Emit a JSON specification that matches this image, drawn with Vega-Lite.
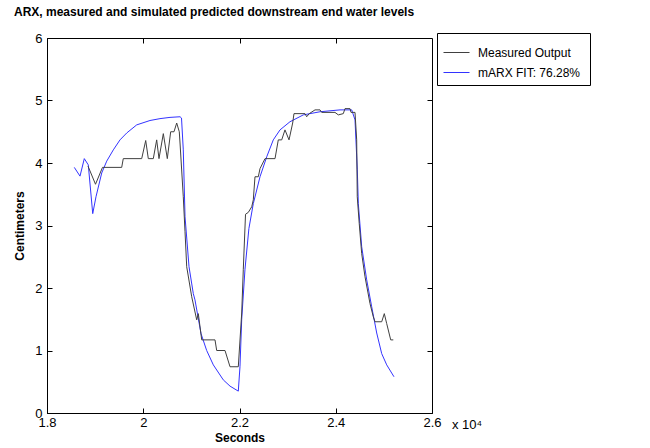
{
  "$schema": "https://vega.github.io/schema/vega-lite/v6.json",
  "width": 385,
  "height": 375,
  "autosize": {"type": "none"},
  "padding": {"left": 47, "top": 38, "right": 218, "bottom": 35},
  "background": "white",
  "config": {
    "view": {"stroke": "black", "strokeWidth": 1},
    "font": "Liberation Sans"
  },
  "title": {
    "text": "ARX, measured and simulated predicted downstream end water levels",
    "anchor": "start",
    "frame": "group",
    "dx": -33,
    "offset": 13,
    "fontSize": 12,
    "font": "Liberation Sans",
    "fontWeight": "bold",
    "color": "black"
  },
  "data": {
    "values": [
      {"series": "mARX FIT:  76.28%", "t": 1.8567, "cm": 3.93},
      {"series": "mARX FIT:  76.28%", "t": 1.8686, "cm": 3.79},
      {"series": "mARX FIT:  76.28%", "t": 1.8775, "cm": 4.07},
      {"series": "mARX FIT:  76.28%", "t": 1.8858, "cm": 3.97},
      {"series": "mARX FIT:  76.28%", "t": 1.8950, "cm": 3.19},
      {"series": "mARX FIT:  76.28%", "t": 1.9018, "cm": 3.46},
      {"series": "mARX FIT:  76.28%", "t": 1.9137, "cm": 3.84},
      {"series": "mARX FIT:  76.28%", "t": 1.9241, "cm": 4.03},
      {"series": "mARX FIT:  76.28%", "t": 1.9378, "cm": 4.21},
      {"series": "mARX FIT:  76.28%", "t": 1.9517, "cm": 4.37},
      {"series": "mARX FIT:  76.28%", "t": 1.9656, "cm": 4.48},
      {"series": "mARX FIT:  76.28%", "t": 1.9864, "cm": 4.61},
      {"series": "mARX FIT:  76.28%", "t": 2.0140, "cm": 4.68},
      {"series": "mARX FIT:  76.28%", "t": 2.0348, "cm": 4.71},
      {"series": "mARX FIT:  76.28%", "t": 2.0556, "cm": 4.73},
      {"series": "mARX FIT:  76.28%", "t": 2.0764, "cm": 4.74},
      {"series": "mARX FIT:  76.28%", "t": 2.0795, "cm": 4.72},
      {"series": "mARX FIT:  76.28%", "t": 2.0832, "cm": 4.21},
      {"series": "mARX FIT:  76.28%", "t": 2.0868, "cm": 3.14},
      {"series": "mARX FIT:  76.28%", "t": 2.0951, "cm": 2.34},
      {"series": "mARX FIT:  76.28%", "t": 2.1040, "cm": 1.91},
      {"series": "mARX FIT:  76.28%", "t": 2.1075, "cm": 1.81},
      {"series": "mARX FIT:  76.28%", "t": 2.1200, "cm": 1.27},
      {"series": "mARX FIT:  76.28%", "t": 2.1318, "cm": 1.0},
      {"series": "mARX FIT:  76.28%", "t": 2.1456, "cm": 0.77},
      {"series": "mARX FIT:  76.28%", "t": 2.1663, "cm": 0.53},
      {"series": "mARX FIT:  76.28%", "t": 2.1803, "cm": 0.43},
      {"series": "mARX FIT:  76.28%", "t": 2.1975, "cm": 0.35},
      {"series": "mARX FIT:  76.28%", "t": 2.2010, "cm": 0.74},
      {"series": "mARX FIT:  76.28%", "t": 2.2046, "cm": 1.5},
      {"series": "mARX FIT:  76.28%", "t": 2.2114, "cm": 2.3},
      {"series": "mARX FIT:  76.28%", "t": 2.2195, "cm": 2.95},
      {"series": "mARX FIT:  76.28%", "t": 2.2287, "cm": 3.35},
      {"series": "mARX FIT:  76.28%", "t": 2.2426, "cm": 3.78},
      {"series": "mARX FIT:  76.28%", "t": 2.2566, "cm": 4.1},
      {"series": "mARX FIT:  76.28%", "t": 2.2702, "cm": 4.37},
      {"series": "mARX FIT:  76.28%", "t": 2.2842, "cm": 4.53},
      {"series": "mARX FIT:  76.28%", "t": 2.3049, "cm": 4.66},
      {"series": "mARX FIT:  76.28%", "t": 2.3326, "cm": 4.77},
      {"series": "mARX FIT:  76.28%", "t": 2.3673, "cm": 4.82},
      {"series": "mARX FIT:  76.28%", "t": 2.4088, "cm": 4.85},
      {"series": "mARX FIT:  76.28%", "t": 2.4332, "cm": 4.85},
      {"series": "mARX FIT:  76.28%", "t": 2.4400, "cm": 4.69},
      {"series": "mARX FIT:  76.28%", "t": 2.4448, "cm": 3.89},
      {"series": "mARX FIT:  76.28%", "t": 2.4469, "cm": 3.35},
      {"series": "mARX FIT:  76.28%", "t": 2.4539, "cm": 2.66},
      {"series": "mARX FIT:  76.28%", "t": 2.4643, "cm": 2.13},
      {"series": "mARX FIT:  76.28%", "t": 2.4747, "cm": 1.7},
      {"series": "mARX FIT:  76.28%", "t": 2.4851, "cm": 1.28},
      {"series": "mARX FIT:  76.28%", "t": 2.4955, "cm": 0.95},
      {"series": "mARX FIT:  76.28%", "t": 2.5059, "cm": 0.77},
      {"series": "mARX FIT:  76.28%", "t": 2.5210, "cm": 0.58},
      {"series": "Measured Output", "t": 1.8852, "cm": 3.95},
      {"series": "Measured Output", "t": 1.9008, "cm": 3.66},
      {"series": "Measured Output", "t": 1.9153, "cm": 3.93},
      {"series": "Measured Output", "t": 1.9552, "cm": 3.93},
      {"series": "Measured Output", "t": 1.9585, "cm": 4.07},
      {"series": "Measured Output", "t": 1.9968, "cm": 4.07},
      {"series": "Measured Output", "t": 2.0051, "cm": 4.36},
      {"series": "Measured Output", "t": 2.0105, "cm": 4.07},
      {"series": "Measured Output", "t": 2.0209, "cm": 4.07},
      {"series": "Measured Output", "t": 2.0279, "cm": 4.37},
      {"series": "Measured Output", "t": 2.0327, "cm": 4.07},
      {"series": "Measured Output", "t": 2.0417, "cm": 4.47},
      {"series": "Measured Output", "t": 2.0500, "cm": 4.07},
      {"series": "Measured Output", "t": 2.0570, "cm": 4.5},
      {"series": "Measured Output", "t": 2.0639, "cm": 4.5},
      {"series": "Measured Output", "t": 2.0695, "cm": 4.64},
      {"series": "Measured Output", "t": 2.0749, "cm": 4.5},
      {"series": "Measured Output", "t": 2.0764, "cm": 4.32},
      {"series": "Measured Output", "t": 2.0832, "cm": 3.46},
      {"series": "Measured Output", "t": 2.0868, "cm": 2.9},
      {"series": "Measured Output", "t": 2.0903, "cm": 2.34},
      {"series": "Measured Output", "t": 2.1007, "cm": 1.86},
      {"series": "Measured Output", "t": 2.1111, "cm": 1.49},
      {"series": "Measured Output", "t": 2.1144, "cm": 1.59},
      {"series": "Measured Output", "t": 2.1215, "cm": 1.17},
      {"series": "Measured Output", "t": 2.1491, "cm": 1.17},
      {"series": "Measured Output", "t": 2.1526, "cm": 1.0},
      {"series": "Measured Output", "t": 2.1699, "cm": 1.0},
      {"series": "Measured Output", "t": 2.1803, "cm": 0.74},
      {"series": "Measured Output", "t": 2.1975, "cm": 0.74},
      {"series": "Measured Output", "t": 2.2046, "cm": 1.6},
      {"series": "Measured Output", "t": 2.2079, "cm": 2.3},
      {"series": "Measured Output", "t": 2.2125, "cm": 3.18},
      {"series": "Measured Output", "t": 2.2183, "cm": 3.21},
      {"series": "Measured Output", "t": 2.2254, "cm": 3.3},
      {"series": "Measured Output", "t": 2.2287, "cm": 3.41},
      {"series": "Measured Output", "t": 2.2322, "cm": 3.78},
      {"series": "Measured Output", "t": 2.2391, "cm": 3.78},
      {"series": "Measured Output", "t": 2.2426, "cm": 3.91},
      {"series": "Measured Output", "t": 2.2530, "cm": 4.07},
      {"series": "Measured Output", "t": 2.2738, "cm": 4.07},
      {"series": "Measured Output", "t": 2.2806, "cm": 4.37},
      {"series": "Measured Output", "t": 2.2877, "cm": 4.37},
      {"series": "Measured Output", "t": 2.2945, "cm": 4.53},
      {"series": "Measured Output", "t": 2.3029, "cm": 4.37},
      {"series": "Measured Output", "t": 2.3105, "cm": 4.64},
      {"series": "Measured Output", "t": 2.3132, "cm": 4.79},
      {"series": "Measured Output", "t": 2.3361, "cm": 4.79},
      {"series": "Measured Output", "t": 2.3396, "cm": 4.74},
      {"series": "Measured Output", "t": 2.3450, "cm": 4.79},
      {"series": "Measured Output", "t": 2.3569, "cm": 4.85},
      {"series": "Measured Output", "t": 2.3673, "cm": 4.85},
      {"series": "Measured Output", "t": 2.3708, "cm": 4.81},
      {"series": "Measured Output", "t": 2.3984, "cm": 4.81},
      {"series": "Measured Output", "t": 2.4053, "cm": 4.77},
      {"series": "Measured Output", "t": 2.4157, "cm": 4.79},
      {"series": "Measured Output", "t": 2.4192, "cm": 4.87},
      {"series": "Measured Output", "t": 2.4296, "cm": 4.87},
      {"series": "Measured Output", "t": 2.4317, "cm": 4.81},
      {"series": "Measured Output", "t": 2.4400, "cm": 4.81},
      {"series": "Measured Output", "t": 2.4435, "cm": 4.37},
      {"series": "Measured Output", "t": 2.4447, "cm": 3.46},
      {"series": "Measured Output", "t": 2.4488, "cm": 3.03},
      {"series": "Measured Output", "t": 2.4539, "cm": 2.55},
      {"series": "Measured Output", "t": 2.4608, "cm": 2.18},
      {"series": "Measured Output", "t": 2.4712, "cm": 1.75},
      {"series": "Measured Output", "t": 2.4780, "cm": 1.54},
      {"series": "Measured Output", "t": 2.4816, "cm": 1.46},
      {"series": "Measured Output", "t": 2.4955, "cm": 1.46},
      {"series": "Measured Output", "t": 2.5009, "cm": 1.59},
      {"series": "Measured Output", "t": 2.5059, "cm": 1.43},
      {"series": "Measured Output", "t": 2.5142, "cm": 1.17},
      {"series": "Measured Output", "t": 2.5196, "cm": 1.17}
    ]
  },
  "resolve": {"axis": {"x": "independent", "y": "independent"}},
  "layer": [
    {
      "mark": {"type": "line", "strokeWidth": 1, "interpolate": "linear"},
      "encoding": {
        "x": {
          "field": "t", "type": "quantitative",
          "scale": {"domain": [1.8, 2.6], "nice": false, "zero": false},
          "axis": {
            "values": [1.8, 2, 2.2, 2.4, 2.6],
            "format": "~g",
            "title": "Seconds",
            "titleFont": "Liberation Sans", "titleFontSize": 12, "titleFontWeight": "bold", "titleColor": "black",
            "titlePadding": 3,
            "labelFont": "Liberation Sans", "labelFontSize": 13, "labelColor": "black",
            "labelPadding": 8,
            "tickSize": -5, "tickColor": "black", "domainColor": "black",
            "grid": false, "labelFlush": false, "labelOverlap": false
          }
        },
        "y": {
          "field": "cm", "type": "quantitative",
          "scale": {"domain": [0, 6], "nice": false, "zero": true},
          "axis": {
            "values": [0, 1, 2, 3, 4, 5, 6],
            "title": "Centimeters",
            "titleFont": "Liberation Sans", "titleFontSize": 12, "titleFontWeight": "bold", "titleColor": "black",
            "titlePadding": 8,
            "labelFont": "Liberation Sans", "labelFontSize": 13, "labelColor": "black",
            "labelPadding": 10,
            "tickSize": -5, "tickColor": "black", "domainColor": "black",
            "grid": false, "labelFlush": false, "labelOverlap": false
          }
        },
        "color": {
          "field": "series", "type": "nominal",
          "scale": {"domain": ["Measured Output", "mARX FIT:  76.28%"], "range": ["#404040", "#3333ff"]},
          "legend": {
            "title": null,
            "orient": "none",
            "legendX": 390,
            "legendY": -5,
            "strokeColor": "black",
            "fillColor": "white",
            "padding": 6,
            "symbolType": "stroke",
            "symbolSize": 676,
            "symbolStrokeWidth": 1,
            "labelFont": "Liberation Sans",
            "labelFontSize": 12,
            "labelColor": "black",
            "labelOffset": 8,
            "labelLimit": 400,
            "rowPadding": -6
          }
        }
      }
    },
    {
      "data": {"values": [{"note": "x 10⁴"}]},
      "mark": {"type": "text", "align": "left", "baseline": "middle", "dx": 20, "dy": 12, "fontSize": 13, "fontWeight": "normal", "font": "Liberation Sans", "color": "black"},
      "encoding": {
        "x": {"datum": 2.6, "type": "quantitative", "axis": {"orient": "top", "labels": false, "title": null, "values": [2, 2.2, 2.4], "tickSize": -5, "tickColor": "black", "domain": false, "grid": false}},
        "y": {"datum": 0, "type": "quantitative", "axis": {"orient": "right", "labels": false, "title": null, "values": [1, 2, 3, 4, 5], "tickSize": -5, "tickColor": "black", "domain": false, "grid": false}},
        "text": {"field": "note", "type": "nominal"}
      }
    }
  ]
}
